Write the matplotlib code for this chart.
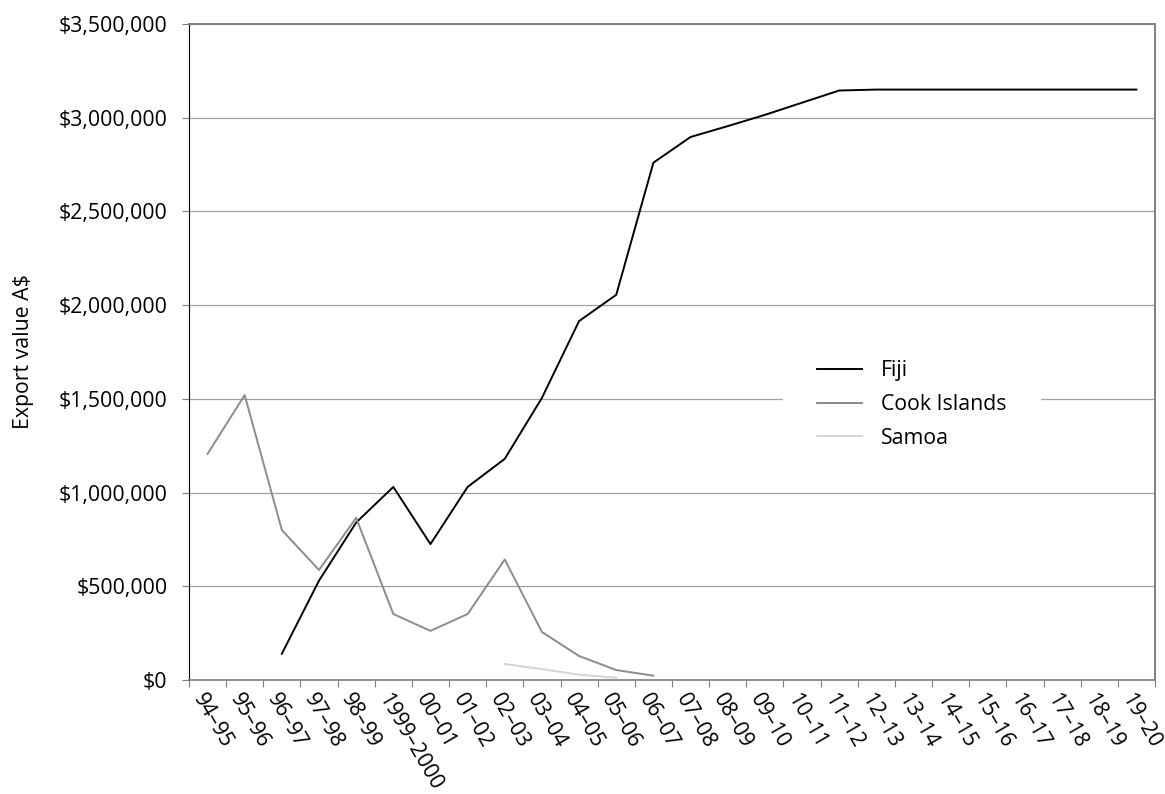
import numpy as np
import matplotlib.pyplot as plt

# ============================== DATA ==============================
years = ['94–95', '95–96', '96–97', '97–98', '98–99', '1999–2000', '00–01',
         '01–02', '02–03', '03–04', '04–05', '05–06', '06–07', '07–08',
         '08–09', '09–10', '10–11', '11–12', '12–13', '13–14', '14–15',
         '15–16', '16–17', '17–18', '18–19', '19–20']

# Export value A$ (None = no data)
fiji = [None, None, 140000, 530000, 840000, 1030000, 725000, 1030000,
        1180000, 1505000, 1915000, 2055000, 2760000, 2897000, 2955000,
        3015000, 3080000, 3145000, 3150000, 3150000, 3150000, 3150000,
        3150000, 3150000, 3150000, 3150000]
cook = [1206000, 1520000, 800000, 587000, 865000, 352000, 262000, 352000,
        643000, 256000, 128000, 53000, 23000]
samoa = [None] * 8 + [85000, 58000, 28000, 12000]

# ============================== PLOT ==============================
plt.rcParams['font.family'] = ['Open Sans', 'DejaVu Sans']
fs = 15.3

fig = plt.figure(figsize=(11.65, 7.94), dpi=100)
ax = fig.add_axes([0.1622, 0.1436, 0.8292, 0.8262])

def series(vals):
    x = np.arange(len(vals)) + 0.5
    y = np.array([np.nan if v is None else v for v in vals], dtype=float)
    return x, y

x, y = series(fiji)
ax.plot(x, y, color='black', lw=1.4, label='Fiji', zorder=3)
x, y = series(cook)
ax.plot(x, y, color='#8c8c8c', lw=1.4, label='Cook Islands', zorder=3)
x, y = series(samoa)
ax.plot(x, y, color='#d4d4d4', lw=1.4, label='Samoa', zorder=3)

ax.set_xlim(0, len(years))
ax.set_ylim(0, 3500000)

# y axis
yt = np.arange(0, 3500001, 500000)
ax.set_yticks(yt)
ax.set_yticklabels(['${:,.0f}'.format(v) for v in yt], fontsize=fs)
ax.yaxis.grid(True, color='#a0a0a0', lw=0.9)
ax.set_axisbelow(True)
ax.tick_params(axis='y', length=5, color='#808080', pad=10.5)
ax.set_ylabel('Export value A$', fontsize=fs, labelpad=18)

# x axis: tick marks at boundaries, labels near centres
ax.set_xticks(np.arange(0, len(years) + 1))
ax.set_xticklabels([])
ax.tick_params(axis='x', which='major', length=5, color='#808080')
ax.set_xticks(np.arange(len(years)) + 0.47, minor=True)
ax.set_xticklabels(years, minor=True, fontsize=fs, rotation=-60,
                   ha='left', va='top', rotation_mode='anchor')
ax.tick_params(axis='x', which='minor', length=0, pad=7)

for s in ['top', 'right', 'bottom']:
    ax.spines[s].set_color('#808080')
ax.spines['top'].set_linewidth(1.4)
ax.spines['right'].set_linewidth(1.4)
ax.spines['bottom'].set_linewidth(1.2)
ax.spines['left'].set_color('black')

leg = ax.legend(loc='center left', bbox_to_anchor=(0.6145, 0.42),
                frameon=True, fontsize=fs, handlelength=2.12,
                handletextpad=0.9, labelspacing=0.6, borderpad=1.6,
                borderaxespad=0)
leg.get_frame().set_edgecolor('white')
leg.get_frame().set_facecolor('white')
leg.get_frame().set_alpha(1)
leg.get_frame().set_boxstyle('square', pad=0)

plt.savefig('out.png', dpi=100)
